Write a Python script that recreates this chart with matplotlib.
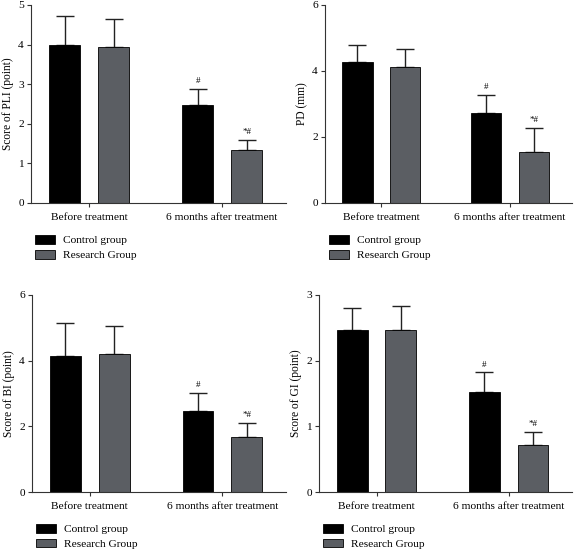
import matplotlib.pyplot as plt
import numpy as np

plt.rcParams['font.family'] = ['Liberation Serif', 'DejaVu Serif']

groups = ['Before treatment', '6 months after treatment']
series = ['Control group', 'Research Group']
colors = ['#000000', '#5b5e63']

ylabels = ['Score of PLI (point)', 'PD (mm)', 'Score of BI (point)', 'Score of GI (point)']
yticks = [[0, 1, 2, 3, 4, 5], [0, 2, 4, 6], [0, 2, 4, 6], [0, 1, 2, 3]]

# means [control, research] per group, and mean+SD (top of error bar)
pli_mean = [[4.00, 2.48], [3.93, 1.34]]
pli_top = [[4.72, 2.87], [4.65, 1.59]]
pd_mean = [[4.26, 2.73], [4.12, 1.55]]
pd_top = [[4.79, 3.28], [4.67, 2.27]]
bi_mean = [[4.14, 2.48], [4.19, 1.69]]
bi_top = [[5.14, 3.02], [5.05, 2.10]]
gi_mean = [[2.46, 1.53], [2.47, 0.72]]
gi_top = [[2.80, 1.82], [2.83, 0.92]]

# significance marks [control, research] per group
marks = [['', '#'], ['', '*#']]

means = [pli_mean, pd_mean, bi_mean, gi_mean]
tops = [pli_top, pd_top, bi_top, gi_top]

W, H = 574, 549
fig = plt.figure(figsize=(W / 100, H / 100), dpi=100)

# axes boxes in pixels: left, top, right, bottom
boxes = [(31, 5, 286, 203), (325, 5, 572, 203),
         (32, 295, 286, 492), (319, 295, 572, 492)]

x = np.arange(len(groups))
width = 0.233
offset = 0.184
fs = 8.2

for i, (l, t, r, b) in enumerate(boxes):
    ax = fig.add_axes([l / W, 1 - b / H, (r - l) / W, (b - t) / H])
    for k in range(2):
        m = np.array(means[i][k])
        err = np.array(tops[i][k]) - m
        xs = x + (k * 2 - 1) * offset
        ax.bar(xs, m, width, color=colors[k], edgecolor='black', linewidth=0.6,
               label=series[k], zorder=2)
        ax.errorbar(xs, m, yerr=[np.zeros_like(err), err], fmt='none',
                    ecolor='#222222', elinewidth=1.0, capsize=6.5, capthick=1.0, zorder=1)
        for j in range(len(groups)):
            if marks[k][j]:
                ax.text(xs[j], tops[i][k][j] + (yticks[i][-1]) * 0.02, marks[k][j],
                        ha='center', va='bottom', fontsize=6.5)
    ax.set_xlim(-0.436, 1.48)
    ax.set_ylim(0, yticks[i][-1])
    ax.set_yticks(yticks[i])
    ax.set_xticks(x)
    ax.set_xticklabels(groups)
    ax.set_ylabel(ylabels[i], fontsize=8.3, labelpad=3)
    ax.spines['top'].set_visible(False)
    ax.spines['right'].set_visible(False)
    for s in ['left', 'bottom']:
        ax.spines[s].set_linewidth(0.8)
        ax.spines[s].set_color('#333333')
    ax.tick_params(axis='both', labelsize=fs, length=3, width=0.8, pad=2, color='#333333')
    ax.tick_params(axis='x', pad=4)
    ax.legend(loc='upper left', bbox_to_anchor=(-0.005, -0.133), frameon=False,
              fontsize=fs, handlelength=1.75, handleheight=0.8,
              labelspacing=0.4, handletextpad=0.65, borderpad=0)

fig.savefig('out.png', dpi=100)
